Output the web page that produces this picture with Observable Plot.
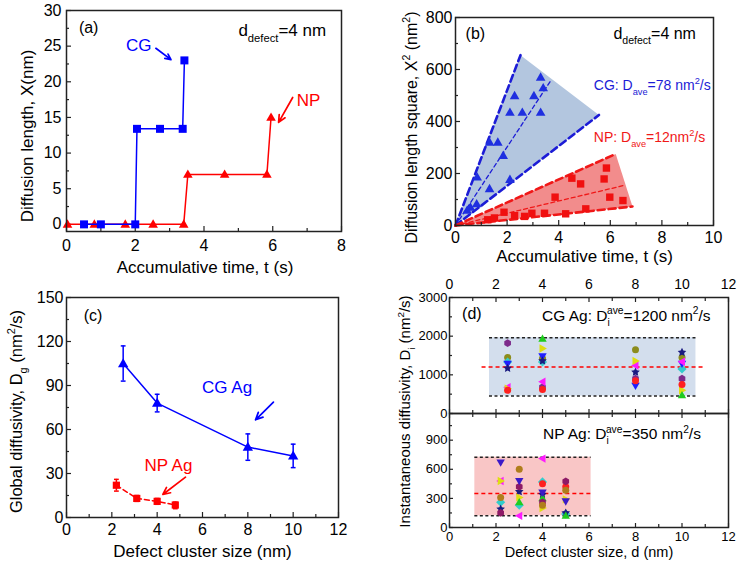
<!DOCTYPE html>
<html><head><meta charset="utf-8">
<script src="https://cdn.jsdelivr.net/npm/d3@7"></script>
<script src="https://cdn.jsdelivr.net/npm/@observablehq/plot@0.6"></script>
<style>
html,body{margin:0;padding:0;background:#fff;}
#fig{position:relative;width:737px;height:561px;overflow:hidden;background:#fff;}
#fig svg{position:absolute;}
</style></head><body><div id="fig"></div>
<script>
// ---------------- DATA ----------------
// Panel (a): diffusion length vs accumulative time
const aCgTime = [0.51, 1.0, 2.0, 2.05, 2.72, 3.38, 3.43];
const aCgX    = [0, 0, 0, 13.4, 13.4, 13.4, 23];
const aNpTime = [0.03, 0.81, 1.71, 2.52, 3.41, 3.53, 4.6, 5.83, 5.95];
const aNpX    = [0, 0, 0, 0, 0, 7, 7, 7, 15];
// Panel (b): diffusion length square vs time
const bCgTime = [0.45, 0.58, 0.82, 0.84, 1.32, 1.32, 1.64, 1.85, 2.11, 2.11, 2.29, 2.59, 3.04, 3.30, 3.40, 3.30];
const bCgX2   = [58, 70, 83, 186, 320, 141, 320, 269, 435, 177, 499, 435, 499, 570, 529, 435];
const bNpTime = [1.25, 1.51, 1.88, 2.29, 2.68, 2.96, 3.45, 3.86, 4.27, 4.51, 4.85, 5.05, 5.76, 5.85, 5.98, 6.49];
const bNpX2   = [22, 29, 51, 38, 35, 47, 47, 109, 45, 182, 160, 64, 179, 221, 109, 96];
const bCgEnvelope = [[0, 0], [2.52, 655], [5.56, 425]];
const bCgUpper = [[0, 0], [2.52, 655]];
const bCgLower = [[0, 0], [5.56, 425]];
const bCgMean  = [[0, 0], [3.69, 557]];
const bNpEnvelope = [[0, 0], [6.21, 275], [6.86, 73]];
const bNpUpper = [[0, 0], [6.21, 275]];
const bNpLower = [[0, 0], [6.86, 73]];
const bNpMean  = [[0, 0], [6.53, 154]];
// Panel (c): global diffusivity vs defect cluster size
const cCgSize = [2.5, 4, 8, 10];
const cCgD    = [105, 78, 48, 42];
const cCgLo   = [93, 72, 39, 34];
const cCgHi   = [117, 84, 57, 50];
const cNpSize = [2.2, 3.1, 4.0, 4.8];
const cNpD    = [22, 13, 11, 8.5];
const cNpLo   = [18, 11, 9, 6];
const cNpHi   = [26, 15, 13, 10.5];
// Panel (d): instantaneous diffusivity, [size, D, series]
const dSeriesColor  = ["#7d2b8b", "#8c8c1c", "#33cccc", "#1f1fff", "#1a1a80", "#ff1aff", "#dede10", "#ff2020", "#1fcc1f", "#8e1a66", "#b07d1c", "#3b1ac8"];
const dSeriesSymbol = ["hexagon", "circle", "diamond", "down", "star", "left", "right", "circle", "up", "hexagon", "circle", "down"];
const dCgPoints = [
  [2.5,1820,0],[2.5,1450,1],[2.5,1330,2],[2.5,1290,3],[2.5,1170,4],[2.5,680,5],[2.5,640,6],[2.5,600,7],
  [4,1930,8],[4,1680,6],[4,1480,3],[4,1420,1],[4,1360,4],[4,1330,2],[4,820,5],[4,680,0],[4,620,7],
  [8,1650,1],[8,1360,6],[8,1240,5],[8,1070,4],[8,900,0],[8,850,7],[8,720,3],
  [10,1580,4],[10,1450,1],[10,1340,5],[10,1290,3],[10,1150,2],[10,900,0],[10,750,7],[10,600,6],[10,470,8]
];
const dNpPoints = [
  [2.2,670,11],[2.2,480,6],[2.2,480,5],[2.2,310,10],[2.2,260,2],[2.2,190,4],[2.2,150,9],
  [3,600,10],[3,480,11],[3,420,9],[3,370,4],[3,310,6],[3,260,8],[3,230,2],[3,120,5],
  [4,710,5],[4,470,2],[4,450,7],[4,360,11],[4,340,4],[4,300,8],[4,260,9],[4,230,10],[4,200,6],
  [5,475,9],[5,420,7],[5,385,10],[5,290,6],[5,270,11],[5,150,4],[5,140,2],[5,120,8]
];
const dCgBand = {x1: 1.72, x2: 10.6, lo: 450, hi: 1960, ave: 1200, ax1: 1.4, ax2: 11.0};
const dNpBand = {x1: 1.09, x2: 6.09, lo: 120, hi: 725, ave: 350, ax1: 1.09, ax2: 6.09};

// ---------------- HELPERS ----------------
const FONT = "'Liberation Sans', Arial, Helvetica, sans-serif";
const BLUE = "#0000ff", RED = "#ff0000";
const st = (fs) => ({fontFamily: FONT, fontSize: fs + "px", background: "transparent", overflow: "visible", color: "#000"});
const FRAME = {stroke: "#222", strokeWidth: 1.5};
function sym(f) { return {draw(c, size) { f(c, Math.sqrt(size / Math.PI)); }}; }
function poly(c, pts) { c.moveTo(pts[0][0], pts[0][1]); for (let i = 1; i < pts.length; i++) c.lineTo(pts[i][0], pts[i][1]); c.closePath(); }
function ngon(n, r, a0) { return d3.range(n).map(i => [r * Math.cos(a0 + i * 2 * Math.PI / n), r * Math.sin(a0 + i * 2 * Math.PI / n)]); }
const SYM = {
  circle: sym((c, r) => { c.moveTo(r, 0); c.arc(0, 0, r, 0, 2 * Math.PI); }),
  square: sym((c, r) => poly(c, [[-r, -r], [r, -r], [r, r], [-r, r]])),
  up: sym((c, r) => poly(c, [[0, -1.25 * r], [1.2 * r, 0.85 * r], [-1.2 * r, 0.85 * r]])),
  down: sym((c, r) => poly(c, [[0, 1.25 * r], [1.2 * r, -0.85 * r], [-1.2 * r, -0.85 * r]])),
  left: sym((c, r) => poly(c, [[-1.25 * r, 0], [0.85 * r, -1.2 * r], [0.85 * r, 1.2 * r]])),
  right: sym((c, r) => poly(c, [[1.25 * r, 0], [-0.85 * r, -1.2 * r], [-0.85 * r, 1.2 * r]])),
  diamond: sym((c, r) => poly(c, [[0, -1.3 * r], [1.3 * r, 0], [0, 1.3 * r], [-1.3 * r, 0]])),
  hexagon: sym((c, r) => poly(c, ngon(6, 1.1 * r, Math.PI / 6))),
  star: sym((c, r) => poly(c, d3.range(10).map(i => { const rr = i % 2 ? 0.5 * r * 1.3 : 1.3 * r; const a = -Math.PI / 2 + i * Math.PI / 5; return [rr * Math.cos(a), rr * Math.sin(a)]; }))),
  cap: sym((c, r) => { c.moveTo(-r, 0); c.lineTo(r, 0); })
};
function ax(dir, anchor, values, size, pad, fs, labels = true) {
  const f = dir === "x" ? Plot.axisX : Plot.axisY;
  const o = {anchor, tickSize: -size, tickPadding: pad + size, label: null, strokeWidth: 1.2, fontSize: fs, stroke: "#222",
             tickFormat: labels ? (d => String(d)) : (() => "")};
  return f(values, o);
}
function richify(root) {
  root.querySelectorAll("text").forEach(t => {
    const s = t.textContent;
    if (!/[_^]\{/.test(s)) return;
    const fs = parseFloat(getComputedStyle(t).fontSize) || 15;
    while (t.firstChild) t.removeChild(t.firstChild);
    const parts = []; const re = /([_^])\{([^}]*)\}/g; let last = 0, m;
    while ((m = re.exec(s))) { if (m.index > last) parts.push(["", s.slice(last, m.index)]); parts.push([m[1], m[2]]); last = re.lastIndex; }
    if (last < s.length) parts.push(["", s.slice(last)]);
    let cur = 0, prev = null;
    for (const [k, str] of parts) {
      const ts = document.createElementNS("http://www.w3.org/2000/svg", "tspan");
      const target = k === "_" ? 0.34 * fs : k === "^" ? -0.42 * fs : 0;
      if (Math.abs(target - cur) > 0.01) ts.setAttribute("dy", (target - cur).toFixed(2));
      if (k) ts.setAttribute("font-size", (0.66 * fs).toFixed(2));
      ts.textContent = str;
      t.appendChild(ts);
      if (k === "^" && prev && prev.k === "_") ts.setAttribute("dx", (-prev.el.getComputedTextLength() - 0.5).toFixed(2));
      cur = target; prev = {k, el: ts};
    }
  });
}
const fig = document.getElementById("fig");
function place(svg, left, top) { svg.style.left = left + "px"; svg.style.top = top + "px"; fig.appendChild(svg); richify(svg); }
const zipTV = (a, b) => a.map((t, i) => ({t, v: b[i]}));
const pairs = (arr) => arr.map(([t, v]) => ({t, v}));
function label(txt, anchor, dx, dy, fs, rotate = 0) {
  return Plot.text([txt], {text: d => d, frameAnchor: anchor, dx, dy, rotate, fontSize: fs, textAnchor: "middle", lineAnchor: "middle", fill: "#000"});
}
function note(x, y, txt, fill, fs) {
  return Plot.text([{x, y, txt}], {x: "x", y: "y", text: "txt", fill, fontSize: fs, textAnchor: "start", lineAnchor: "middle"});
}
const arrowOpts = (c) => ({x1: "x1", y1: "y1", x2: "x2", y2: "y2", stroke: c, strokeWidth: 1.7, headLength: 7, headAngle: 50});

// ---------------- PANEL (a) ----------------
const aCg = zipTV(aCgTime, aCgX), aNp = zipTV(aNpTime, aNpX);
place(Plot.plot({
  width: 370, height: 280, marginLeft: 66, marginRight: 29, marginTop: 10, marginBottom: 49,
  x: {domain: [0, 8], label: null}, y: {domain: [-1, 30], label: null},
  style: st(16),
  marks: [
    ax("x", "bottom", [0, 2, 4, 6, 8], 5, 8, 16), ax("x", "bottom", [1, 3, 5, 7], 3, 8, 16, false),
    ax("y", "left", [0, 5, 10, 15, 20, 25, 30], 5, 5, 16), ax("y", "left", [2.5, 7.5, 12.5, 17.5, 22.5, 27.5], 3, 5, 16, false),
    Plot.line(aNp, {x: "t", y: "v", stroke: RED, strokeWidth: 1.5}),
    Plot.dot(aNp, {x: "t", y: "v", symbol: SYM.up, r: 4.0, fill: RED, stroke: "none"}),
    Plot.line(aCg, {x: "t", y: "v", stroke: BLUE, strokeWidth: 1.5}),
    Plot.dot(aCg, {x: "t", y: "v", symbol: SYM.square, r: 4.0, fill: BLUE, stroke: "none"}),
    Plot.frame(FRAME),
    note(0.36, 27.6, "(a)", "#000", 16),
    note(5.0, 27.2, "d_{defect}=4 nm", "#000", 17),
    note(1.73, 25.1, "CG", BLUE, 17),
    note(6.7, 17.4, "NP", RED, 17),
    Plot.arrow([{x1: 2.6, y1: 24.7, x2: 3.04, y2: 23.1}], arrowOpts(BLUE)),
    Plot.arrow([{x1: 6.58, y1: 17.8, x2: 6.17, y2: 14.3}], arrowOpts(RED)),
    label("Accumulative time, t (s)", "bottom", 1, 36, 17),
    label("Diffusion length, X(nm)", "left", -39, 15, 17, -90)
  ]
}), 0, 0);

// ---------------- PANEL (b) ----------------
const bCg = zipTV(bCgTime, bCgX2), bNp = zipTV(bNpTime, bNpX2);
const dashed = (arr, color, w, dash) => Plot.line(pairs(arr), {x: "t", y: "v", stroke: color, strokeWidth: w, strokeDasharray: dash});
place(Plot.plot({
  width: 367, height: 280, marginLeft: 85, marginRight: 24, marginTop: 17, marginBottom: 55,
  x: {domain: [0, 10], label: null}, y: {domain: [0, 800], label: null},
  style: st(16),
  marks: [
    Plot.line(pairs(bCgEnvelope), {x: "t", y: "v", fill: "#b3c6df", stroke: "none"}),
    Plot.line(pairs(bNpEnvelope), {x: "t", y: "v", fill: "#f28c8c", stroke: "none"}),
    dashed(bCgUpper, "#1c1cd6", 2.6, "7,4"), dashed(bCgLower, "#1c1cd6", 2.6, "7,4"), dashed(bCgMean, "#1c1cd6", 1.3, "4,3"),
    dashed(bNpUpper, "#f01818", 2.6, "7,4"), dashed(bNpLower, "#f01818", 2.6, "7,4"), dashed(bNpMean, "#f01818", 1.3, "4,3"),
    Plot.dot(bCg, {x: "t", y: "v", symbol: SYM.up, r: 4.0, fill: "#1f2fe0", stroke: "none"}),
    Plot.dot(bNp, {x: "t", y: "v", symbol: SYM.square, r: 3.7, fill: "#f01010", stroke: "none"}),
    ax("x", "bottom", [0, 2, 4, 6, 8, 10], 5, 6, 16), ax("x", "bottom", [1, 3, 5, 7, 9], 3, 6, 16, false),
    ax("y", "left", [0, 200, 400, 600, 800], 5, 3, 16), ax("y", "left", [100, 300, 500, 700], 3, 3, 16, false),
    Plot.frame(FRAME),
    note(0.39, 737, "(b)", "#000", 16),
    note(6.12, 737, "d_{defect}=4 nm", "#000", 16),
    note(5.36, 538, "CG: D_{ave}=78 nm^{2}/s", "#1c1cd6", 14),
    note(5.36, 338, "NP: D_{ave}=12nm^{2}/s", "#f01818", 14),
    label("Accumulative time, t (s)", "bottom", 0, 31, 17),
    label("Diffusion length square, X^{2} (nm^{2})", "left", -44, 6, 16, -90)
  ]
}), 370, 0);

// ---------------- PANEL (c) ----------------
const cCg = cCgSize.map((x, i) => ({x, d: cCgD[i], lo: cCgLo[i], hi: cCgHi[i]}));
const cNp = cNpSize.map((x, i) => ({x, d: cNpD[i], lo: cNpLo[i], hi: cNpHi[i]}));
place(Plot.plot({
  width: 370, height: 281, marginLeft: 66, marginRight: 32, marginTop: 17, marginBottom: 44,
  x: {domain: [0, 12], label: null}, y: {domain: [0, 150], label: null},
  style: st(16),
  marks: [
    ax("x", "bottom", [0, 2, 4, 6, 8, 10, 12], 5, 6, 16), ax("x", "bottom", [1, 3, 5, 7, 9, 11], 3, 6, 16, false),
    ax("y", "left", [0, 30, 60, 90, 120, 150], 5, 3, 16), ax("y", "left", [15, 45, 75, 105, 135], 3, 3, 16, false),
    Plot.line(cCg, {x: "x", y: "d", stroke: BLUE, strokeWidth: 1.5}),
    Plot.ruleX(cCg, {x: "x", y1: "lo", y2: "hi", stroke: BLUE, strokeWidth: 1.5}),
    Plot.dot(cCg, {x: "x", y: "lo", symbol: SYM.cap, r: 2.4, stroke: BLUE, strokeWidth: 1.5}),
    Plot.dot(cCg, {x: "x", y: "hi", symbol: SYM.cap, r: 2.4, stroke: BLUE, strokeWidth: 1.5}),
    Plot.dot(cCg, {x: "x", y: "d", symbol: SYM.up, r: 4.3, fill: BLUE, stroke: "none"}),
    Plot.line(cNp, {x: "x", y: "d", stroke: RED, strokeWidth: 1.5, strokeDasharray: "5,3"}),
    Plot.ruleX(cNp, {x: "x", y1: "lo", y2: "hi", stroke: RED, strokeWidth: 1.5}),
    Plot.dot(cNp, {x: "x", y: "lo", symbol: SYM.cap, r: 2.4, stroke: RED, strokeWidth: 1.5}),
    Plot.dot(cNp, {x: "x", y: "hi", symbol: SYM.cap, r: 2.4, stroke: RED, strokeWidth: 1.5}),
    Plot.dot(cNp, {x: "x", y: "d", symbol: SYM.square, r: 3.6, fill: RED, stroke: "none"}),
    Plot.frame(FRAME),
    note(0.76, 137.7, "(c)", "#000", 16),
    note(5.98, 88.4, "CG Ag", BLUE, 17),
    note(3.44, 35.5, "NP Ag", RED, 17),
    Plot.arrow([{x1: 9.13, y1: 78.6, x2: 8.34, y2: 66.6}], arrowOpts(BLUE)),
    Plot.arrow([{x1: 5.25, y1: 27.5, x2: 4.25, y2: 15.7}], arrowOpts(RED)),
    label("Defect cluster size (nm)", "bottom", 0, 34, 17),
    label("Global diffusivity, D_{g} (nm^{2}/s)", "left", -50, 4, 16.5, -90)
  ]
}), 0, 280);

// ---------------- PANEL (d) ----------------
const toObj = (p) => ({x: p[0], d: p[1], s: p[2]});
function dDots(points) {
  const objs = points.map(toObj);
  return dSeriesColor.map((c, i) => Plot.dot(objs.filter(o => o.s === i), {x: "x", y: "d", symbol: SYM[dSeriesSymbol[i]], r: 3.5, fill: c, stroke: "none"}));
}
const xMaj = [0, 2, 4, 6, 8, 10, 12], xMin = [1, 3, 5, 7, 9, 11];
// top (CG)
place(Plot.plot({
  width: 367, height: 153, marginLeft: 79, marginRight: 9, marginTop: 37, marginBottom: 0,
  x: {domain: [0, 12], label: null}, y: {domain: [0, 3000], label: null},
  style: st(14),
  marks: [
    Plot.rect([dCgBand], {x1: "x1", x2: "x2", y1: "lo", y2: "hi", fill: "#d3deed"}),
    Plot.ruleY([dCgBand.lo, dCgBand.hi], {y: d => d, x1: dCgBand.x1, x2: dCgBand.x2, stroke: "#222", strokeWidth: 1.5, strokeDasharray: "3,2.5"}),
    Plot.ruleY([dCgBand.ave], {y: d => d, x1: dCgBand.ax1, x2: dCgBand.ax2, stroke: RED, strokeWidth: 1.5, strokeDasharray: "4,3"}),
    ...dDots(dCgPoints),
    ax("x", "top", xMaj, 4, 9, 14), ax("x", "top", xMin, 3, 9, 14, false),
    ax("x", "bottom", xMaj, 4, 5, 14, false), ax("x", "bottom", xMin, 3, 5, 14, false),
    ax("y", "left", [0, 1000, 2000, 3000], 4, 2, 13), ax("y", "left", [500, 1500, 2500], 3, 2, 13, false),
    Plot.frame(FRAME),
    note(0.54, 2577, "(d)", "#000", 16),
    note(3.98, 2533, "CG Ag: D_{i}^{ave}=1200 nm^{2}/s", "#000", 15.5)
  ]
}), 370, 260);
// bottom (NP)
place(Plot.plot({
  width: 367, height: 148, marginLeft: 79, marginRight: 9, marginTop: 0, marginBottom: 34,
  x: {domain: [0, 12], label: null}, y: {domain: [0, 1175], label: null},
  style: st(14),
  marks: [
    Plot.rect([dNpBand], {x1: "x1", x2: "x2", y1: "lo", y2: "hi", fill: "#f9c6c6"}),
    Plot.ruleY([dNpBand.lo, dNpBand.hi], {y: d => d, x1: dNpBand.x1, x2: dNpBand.x2, stroke: "#222", strokeWidth: 1.5, strokeDasharray: "3,2.5"}),
    Plot.ruleY([dNpBand.ave], {y: d => d, x1: dNpBand.ax1, x2: dNpBand.ax2, stroke: RED, strokeWidth: 1.5, strokeDasharray: "4,3"}),
    ...dDots(dNpPoints),
    ax("x", "top", xMaj, 4, 5, 14, false), ax("x", "top", xMin, 3, 5, 14, false),
    ax("x", "bottom", xMaj, 4, 4, 13), ax("x", "bottom", xMin, 3, 4, 13, false),
    ax("y", "left", [0, 300, 600, 900], 4, 2, 13), ax("y", "left", [150, 450, 750, 1050], 3, 2, 13, false),
    Plot.frame(FRAME),
    note(4.02, 962, "NP Ag: D_{i}^{ave}=350 nm^{2}/s", "#000", 15.5),
    label("Defect cluster size, d (nm)", "bottom", 0, 25.3, 14.5),
    label("Instantaneous diffusivity, D_{i} (nm^{2}/s)", "top-left", -44, -2, 15, -90)
  ]
}), 370, 413);
</script></body></html>
